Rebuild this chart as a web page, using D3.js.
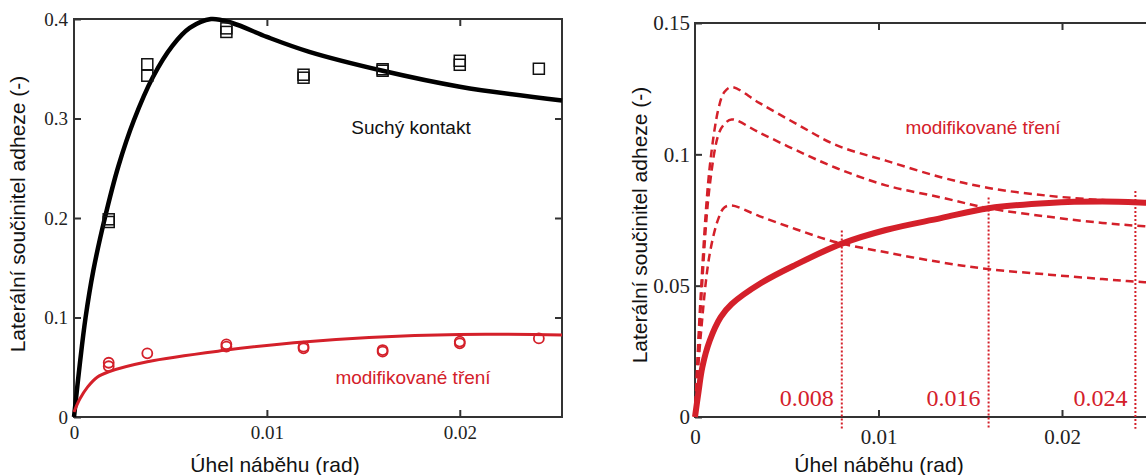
<!DOCTYPE html>
<html>
<head>
<meta charset="utf-8">
<script src="https://cdn.jsdelivr.net/npm/d3@7"></script>
<style>
  body { margin: 0; background: #fff; }
  svg { display: block; }
  .title { font-family: "Liberation Sans", Arial, sans-serif; fill: #111; }
  .num { font-family: "Liberation Serif", "DejaVu Serif", serif; }
</style>
</head>
<body>
<svg id="chart" width="1146" height="475"></svg>
<script>

// Left panel - measured points and model curves

var dotX = [0.0018, 0.0038, 0.0079, 0.0119, 0.016, 0.02, 0.0241];
var dryPts = [[0.1987, 0.196], [0.3545, 0.343], [0.3906, 0.387], [0.344, 0.341], [0.3495, 0.348], [0.358, 0.354], [0.35]];
var wetPts = [[0.0545, 0.051], [0.064], [0.073, 0.0707], [0.0707, 0.069], [0.0673, 0.0657], [0.0758, 0.074], [0.079]];

var dryX = [0, 0.0003, 0.0006, 0.001, 0.0016, 0.0023, 0.0031, 0.0041, 0.0051, 0.006, 0.0071, 0.0082, 0.01, 0.0122, 0.016, 0.02, 0.0253];
var dryY = [0, 0.053, 0.1, 0.147, 0.2, 0.252, 0.298, 0.342, 0.373, 0.391, 0.4, 0.396, 0.382, 0.367, 0.348, 0.332, 0.318];

var wetX = [0, 0.0003, 0.0007, 0.0012, 0.0018, 0.0038, 0.0078, 0.0114, 0.0153, 0.02, 0.0253];
var wetY = [0.005, 0.018, 0.03, 0.04, 0.0455, 0.0556, 0.067, 0.0747, 0.080, 0.083, 0.0825];

// Right panel - thick curve and three dashed ones

var solidX = [0, 0.0002, 0.0004, 0.0008, 0.0014, 0.002, 0.0036, 0.0055, 0.008, 0.0104, 0.0134, 0.016, 0.0193, 0.0222, 0.0245, 0.027];
var solidY = [0, 0.01, 0.019, 0.029, 0.038, 0.043, 0.051, 0.058, 0.066, 0.0712, 0.0757, 0.0795, 0.0815, 0.082, 0.0816, 0.0808];

var dashX = [0, 0.0003, 0.0008, 0.0013, 0.0016, 0.002, 0.0035, 0.0055, 0.0077, 0.0104, 0.0134, 0.016, 0.0193, 0.0222, 0.0245, 0.027];
var dashHigh = [0, 0.045, 0.095, 0.118, 0.1237, 0.1256, 0.1196, 0.1117, 0.1035, 0.0976, 0.0913, 0.0872, 0.0842, 0.0826, 0.0818, 0.0808];
var dashMid  = [0, 0.040, 0.088, 0.108, 0.1115, 0.1133, 0.1083, 0.1016, 0.0948, 0.0882, 0.0836, 0.0795, 0.0762, 0.0739, 0.0726, 0.0715];
var dashLow  = [0, 0.030, 0.062, 0.076, 0.0798, 0.0805, 0.0765, 0.0715, 0.0665, 0.0627, 0.0589, 0.0563, 0.0542, 0.0525, 0.0513, 0.0505];

var markX = [0.008, 0.016, 0.024];
var markTop = [0.071, 0.0836, 0.086];
var markText = ["0.008", "0.016", "0.024"];

var red = "#d4202a";
var svg = d3.select("#chart");

function zip(xs, ys) { return xs.map(function(x, i) { return [x, ys[i]]; }); }

function frame(g, x, y, closed) {
  var x0 = x.range()[0], y0 = y.range()[0], y1 = y.range()[1];
  var x1 = closed ? x.range()[1] : 1200;
  g.append("path")
    .attr("d", closed
      ? `M${x0},${y1}H${x1}V${y0}H${x0}Z`
      : `M${x1},${y1}H${x0}V${y0}H${x1}`)
    .attr("fill", "none").attr("stroke", "#333").attr("stroke-width", 2);
}

function styleAxis(size) {
  return function(sel) {
    sel.attr("font-family", null).attr("font-size", null);
    sel.select(".domain").remove();
    sel.selectAll("line").attr("stroke", "#333").attr("stroke-width", 2);
    sel.selectAll("text").attr("class", "num").attr("font-size", size).attr("fill", "#222");
  };
}

// ---------- LEFT ----------
var xL = d3.scaleLinear().domain([0, 0.0253]).range([74, 562]);
var yL = d3.scaleLinear().domain([0, 0.4]).range([417, 19]);
var gL = svg.append("g");

gL.append("g").attr("transform", "translate(0,417)")
  .call(d3.axisBottom(xL).tickValues([0, 0.01, 0.02]).tickFormat(function(d){ return d; }).tickSizeInner(-7).tickSizeOuter(0).tickPadding(9))
  .call(styleAxis(19));
gL.append("g").attr("transform", "translate(0,19)")
  .call(d3.axisTop(xL).tickValues([0.01, 0.02]).tickFormat("").tickSizeInner(-7).tickSizeOuter(0))
  .call(styleAxis(19));
gL.append("g").attr("transform", "translate(74,0)")
  .call(d3.axisLeft(yL).tickValues([0, 0.1, 0.2, 0.3, 0.4]).tickFormat(function(d){ return d; }).tickSizeInner(-7).tickSizeOuter(0).tickPadding(6))
  .call(styleAxis(19));
gL.append("g").attr("transform", "translate(562,0)")
  .call(d3.axisRight(yL).tickValues([0.1, 0.2, 0.3]).tickFormat("").tickSizeInner(-7).tickSizeOuter(0))
  .call(styleAxis(19));
frame(gL, xL, yL, true);

var lineL = d3.line().x(function(d){ return xL(d[0]); }).y(function(d){ return yL(d[1]); }).curve(d3.curveCatmullRom.alpha(0.5));

gL.append("path").datum(zip(dryX, dryY)).attr("d", lineL)
  .attr("fill", "none").attr("stroke", "#000").attr("stroke-width", 4.5);
gL.append("path").datum(zip(wetX, wetY)).attr("d", lineL)
  .attr("fill", "none").attr("stroke", red).attr("stroke-width", 3);

var sq = [];
dryPts.forEach(function(v, i){ v.forEach(function(y){ sq.push([dotX[i], y]); }); });
gL.selectAll(".sq").data(sq).enter().append("rect")
  .attr("x", function(d){ return xL(d[0]) - 5.5; })
  .attr("y", function(d){ return yL(d[1]) - 5.5; })
  .attr("width", 11).attr("height", 11)
  .attr("fill", "none").attr("stroke", "#111").attr("stroke-width", 1.5);

var ci = [];
wetPts.forEach(function(v, i){ v.forEach(function(y){ ci.push([dotX[i], y]); }); });
gL.selectAll(".ci").data(ci).enter().append("circle")
  .attr("cx", function(d){ return xL(d[0]); })
  .attr("cy", function(d){ return yL(d[1]); })
  .attr("r", 5)
  .attr("fill", "none").attr("stroke", red).attr("stroke-width", 1.8);

gL.append("text").attr("class", "title").attr("x", 411).attr("y", 134)
  .attr("text-anchor", "middle").style("font-size", "19px").text("Suchý kontakt");
gL.append("text").attr("class", "title").attr("x", 413).attr("y", 384)
  .attr("text-anchor", "middle").style("font-size", "19px").style("fill", red).text("modifikované tření");

gL.append("text").attr("class", "title").attr("x", 275).attr("y", 472)
  .attr("text-anchor", "middle").style("font-size", "21px").text("Úhel náběhu (rad)");
gL.append("text").attr("class", "title")
  .attr("transform", "translate(25,214) rotate(-90)")
  .attr("text-anchor", "middle").style("font-size", "21px").text("Laterální součinitel adheze (-)");

// ---------- RIGHT ----------
var xR = d3.scaleLinear().domain([0, 0.03]).range([695, 1245.5]);
var yR = d3.scaleLinear().domain([0, 0.15]).range([417, 23]);
var gR = svg.append("g");

gR.append("g").attr("transform", "translate(0,417)")
  .call(d3.axisBottom(xR).tickValues([0, 0.01, 0.02]).tickFormat(function(d){ return d; }).tickSizeInner(-7).tickSizeOuter(0).tickPadding(12))
  .call(styleAxis(21));
gR.selectAll(".tick").filter(function(d){ return d === 0; }).select("line").remove();
gR.append("g").attr("transform", "translate(0,23)")
  .call(d3.axisTop(xR).tickValues([0.01, 0.02]).tickFormat("").tickSizeInner(-7).tickSizeOuter(0))
  .call(styleAxis(21));
gR.append("g").attr("transform", "translate(695,0)")
  .call(d3.axisLeft(yR).tickValues([0, 0.05, 0.1, 0.15]).tickFormat(function(d){ return d; }).tickSizeInner(-7).tickSizeOuter(0).tickPadding(5))
  .call(styleAxis(21));
frame(gR, xR, yR, false);

var lineR = d3.line().x(function(d){ return xR(d[0]); }).y(function(d){ return yR(d[1]); }).curve(d3.curveCatmullRom.alpha(0.5));

[dashHigh, dashMid, dashLow].forEach(function(s){
  gR.append("path").datum(zip(dashX, s)).attr("d", lineR)
    .attr("fill", "none").attr("stroke", red).attr("stroke-width", 2.5)
    .attr("stroke-dasharray", "8,5");
});

gR.append("path").datum(zip(solidX, solidY)).attr("d", lineR)
  .attr("fill", "none").attr("stroke", red).attr("stroke-width", 6);

gR.selectAll(".mark").data(markX).enter().append("line")
  .attr("x1", function(d){ return xR(d); }).attr("x2", function(d){ return xR(d); })
  .attr("y1", function(d, i){ return yR(markTop[i]); })
  .attr("y2", yR(-0.0045))
  .attr("stroke", red).attr("stroke-width", 2).attr("stroke-dasharray", "2,2");

gR.selectAll(".mtext").data(markX).enter().append("text")
  .attr("class", "num")
  .attr("x", function(d){ return xR(d) - 8; })
  .attr("y", 406)
  .attr("text-anchor", "end")
  .attr("font-size", 24).attr("fill", red)
  .text(function(d, i){ return markText[i]; });

gR.append("text").attr("class", "title").attr("x", 983).attr("y", 134)
  .attr("text-anchor", "middle").style("font-size", "19px").style("fill", red).text("modifikované tření");

gR.append("text").attr("class", "title").attr("x", 879).attr("y", 472)
  .attr("text-anchor", "middle").style("font-size", "21px").text("Úhel náběhu (rad)");
gR.append("text").attr("class", "title")
  .attr("transform", "translate(647,225) rotate(-90)")
  .attr("text-anchor", "middle").style("font-size", "21px").text("Laterální součinitel adheze (-)");

</script>
</body>
</html>
